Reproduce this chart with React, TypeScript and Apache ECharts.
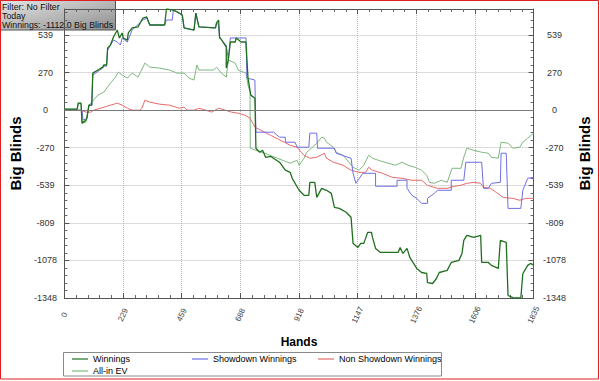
import React, { useEffect, useRef } from 'react';
import * as echarts from 'echarts';

const handsMax = 1835;
const handStep = 229.375;
const bbMin = -1348;
const bbMax = 726;
const bbStep = 269.6;

const infoLines = ['Filter: No Filter', 'Today', 'Winnings: -1112.0 Big Blinds'];

const winnings: [number, number][] = [
  [0, 7], [50, 7], [54, 50], [65, 50], [69, -93], [84, -72], [88, -58], [96, 36], [107, 36], [111, 266],
  [131, 288], [150, 309], [154, 324], [165, 324], [169, 446], [180, 467], [192, 525], [207, 575], [215, 518],
  [226, 554], [230, 518], [246, 503], [250, 554], [265, 590], [288, 597], [307, 661], [322, 669], [334, 611],
  [392, 611], [399, 726], [422, 719], [441, 705], [461, 683], [468, 590], [507, 575], [514, 697], [526, 597],
  [591, 590], [595, 626], [603, 647], [607, 518], [610, 518], [633, 453], [633, 302], [641, 360], [649, 489],
  [668, 489], [672, 518], [691, 489], [710, 489], [718, 230], [729, 108], [745, 86], [749, -273], [764, -302],
  [775, -288], [787, -338], [806, -331], [841, -374], [845, -381], [864, -431], [883, -446], [891, -489],
  [918, -575], [937, -611], [956, -611], [960, -518], [979, -518], [987, -626], [1006, -561], [1025, -575],
  [1044, -597], [1056, -697], [1075, -705], [1102, -733], [1121, -769], [1129, -956], [1148, -985], [1159, -956],
  [1171, -956], [1186, -877], [1201, -877], [1205, -913], [1217, -992], [1236, -1021], [1305, -1021],
  [1313, -985], [1324, -1028], [1340, -992], [1351, -1057], [1378, -1136], [1397, -1165], [1417, -1172],
  [1420, -1237], [1440, -1244], [1455, -1208], [1466, -1165], [1497, -1150], [1513, -1093], [1543, -1078],
  [1555, -1028], [1562, -935], [1574, -899], [1601, -913], [1628, -899], [1632, -1093], [1658, -1093],
  [1670, -1114], [1697, -1136], [1705, -935], [1728, -949], [1735, -1330], [1754, -1345], [1774, -1348],
  [1785, -1348], [1793, -1172], [1812, -1114], [1823, -1100], [1835, -1112],
];

const showdown: [number, number][] = [
  [0, 0], [69, 0], [73, -72], [88, -58], [96, 36], [107, 36], [111, 252], [150, 302], [154, 316], [165, 316],
  [169, 431], [192, 503], [207, 489], [219, 467], [226, 518], [246, 489], [265, 575], [307, 647], [322, 661],
  [334, 611], [392, 611], [399, 647], [422, 647], [426, 719], [441, 705], [461, 683], [468, 590], [507, 575],
  [514, 697], [526, 597], [591, 590], [595, 626], [603, 611], [607, 518], [633, 467], [641, 360], [649, 518],
  [710, 518], [714, 230], [745, 216], [749, -158], [818, -158], [841, -194], [864, -194], [864, -230],
  [902, -230], [910, -266], [956, -266], [960, -165], [987, -165], [990, -273], [1056, -273], [1063, -309],
  [1121, -345], [1129, -453], [1140, -525], [1148, -503], [1167, -453], [1217, -453], [1217, -546],
  [1301, -546], [1301, -503], [1340, -503], [1340, -561], [1359, -611], [1378, -633], [1397, -669],
  [1420, -669], [1420, -633], [1447, -597], [1459, -575], [1513, -575], [1513, -503], [1562, -503],
  [1570, -374], [1632, -374], [1639, -561], [1658, -561], [1670, -525], [1705, -518], [1708, -309],
  [1728, -309], [1735, -705], [1785, -705], [1793, -575], [1812, -489], [1835, -482],
];

const nonShowdown: [number, number][] = [
  [0, 0], [65, 0], [84, -14], [104, -14], [115, 0], [142, 14], [180, 36], [207, 50], [226, 36], [246, 14],
  [265, 0], [296, 0], [303, 14], [315, 72], [334, 58], [372, 43], [411, 36], [449, 14], [468, 22], [480, 0],
  [507, 0], [526, 14], [553, 0], [576, -14], [603, 14], [629, 0], [653, -14], [680, -22], [706, -36],
  [726, -58], [745, -122], [768, -144], [806, -180], [860, -230], [883, -252], [910, -266], [937, -324],
  [960, -345], [987, -338], [1017, -309], [1025, -345], [1052, -374], [1090, -395], [1121, -431],
  [1152, -446], [1178, -446], [1190, -410], [1205, -431], [1244, -453], [1282, -482], [1321, -489],
  [1359, -503], [1397, -503], [1420, -539], [1459, -561], [1497, -561], [1524, -546], [1551, -539],
  [1574, -525], [1601, -518], [1628, -525], [1639, -554], [1666, -561], [1689, -590], [1716, -626],
  [1754, -633], [1781, -647], [1804, -633], [1835, -633],
];

const allInEV: [number, number][] = [
  [0, 7], [50, 7], [54, 50], [65, 50], [69, -93], [84, -86], [96, 36], [131, 108], [154, 129], [180, 194],
  [200, 237], [211, 273], [226, 252], [246, 230], [265, 266], [288, 237], [315, 338], [334, 309], [372, 302],
  [411, 288], [441, 266], [468, 266], [487, 230], [507, 216], [518, 324], [526, 288], [584, 288], [595, 309],
  [610, 273], [633, 237], [641, 360], [668, 338], [680, 288], [710, 266], [718, 180], [726, 129], [727, -273],
  [749, -288], [783, -309], [833, -345], [883, -381], [910, -360], [918, -395], [937, -345], [948, -302],
  [987, -237], [1006, -194], [1017, -201], [1025, -230], [1052, -266], [1063, -302], [1090, -324],
  [1113, -374], [1129, -410], [1152, -431], [1171, -395], [1190, -324], [1205, -345], [1228, -360],
  [1267, -381], [1294, -395], [1321, -374], [1344, -395], [1371, -410], [1397, -431], [1417, -467],
  [1428, -518], [1447, -525], [1474, -503], [1497, -518], [1516, -417], [1551, -417], [1562, -338],
  [1574, -273], [1601, -288], [1632, -302], [1658, -309], [1670, -338], [1697, -345], [1708, -230],
  [1735, -237], [1754, -273], [1781, -266], [1793, -230], [1812, -201], [1835, -165],
];

const FONT = '"Liberation Sans", Arial, sans-serif';

export default function App() {
  const ref = useRef<HTMLDivElement>(null);

  useEffect(() => {
    const chart = echarts.init(ref.current as HTMLDivElement, null, { renderer: 'svg' });
    const fmt = (v: number) => String(Math.round(v) === 0 ? 0 : Math.round(v));

    const yAxis = (pos: 'left' | 'right', gap: number, margin: number) => ({
      type: 'value',
      position: pos,
      min: bbMin,
      max: bbMax,
      interval: bbStep,
      name: 'Big Blinds',
      nameLocation: 'middle',
      nameRotate: 90,
      nameGap: gap,
      nameTextStyle: { fontSize: 15, fontWeight: 'bold', color: '#000', fontFamily: FONT },
      axisLine: { show: true, onZero: false, lineStyle: { color: '#555', width: 1 } },
      axisTick: { show: true, inside: true, length: 5, lineStyle: { color: '#555' } },
      minorTick: { show: true, splitNumber: 5, length: 3, lineStyle: { color: '#666' } },
      axisLabel: {
        formatter: fmt,
        showMaxLabel: false,
        fontSize: 9,
        color: '#333',
        fontFamily: FONT,
        align: 'center',
        margin,
      },
      splitLine: { show: pos === 'left', lineStyle: { type: 'dotted', color: '#b8b8b8', width: 1 } },
    });

    const line = (name: string, data: [number, number][], color: string, width: number) => ({
      name,
      type: 'line',
      data,
      symbol: 'none',
      showSymbol: false,
      lineStyle: { color, width },
      itemStyle: { color },
      xAxisIndex: 0,
      yAxisIndex: 0,
    });

    const legendCommon = {
      top: 353,
      icon: 'rect',
      itemWidth: 16,
      itemHeight: 1.2,
      itemGap: 0,
      orient: 'vertical',
      textStyle: { fontSize: 9, color: '#000', fontFamily: FONT, lineHeight: 12, padding: [0, 0, 0, 0] },
      selectedMode: false,
      padding: 0,
    };

    chart.setOption({
      animation: false,
      backgroundColor: '#fff',
      grid: { left: 63, right: 59, top: 9, bottom: 83 },
      xAxis: [
        {
          type: 'value',
          position: 'bottom',
          min: 0,
          max: handsMax,
          interval: handStep,
          name: 'Hands',
          nameLocation: 'middle',
          nameGap: 38,
          nameTextStyle: { fontSize: 12, fontWeight: 'bold', color: '#000', fontFamily: FONT },
          axisLine: { show: true, onZero: false, lineStyle: { color: '#555' } },
          axisTick: { show: true, inside: true, length: 5, lineStyle: { color: '#555' } },
          minorTick: { show: true, splitNumber: 5, length: 3, lineStyle: { color: '#666' } },
          axisLabel: {
            formatter: fmt,
            rotate: 65,
            fontSize: 8,
            color: '#444',
            fontFamily: FONT,
            align: 'center',
            verticalAlign: 'middle',
            margin: 17,
          },
          splitLine: { show: true, lineStyle: { type: 'dotted', color: '#b8b8b8', width: 1 } },
        },
        {
          type: 'value',
          position: 'top',
          min: 0,
          max: handsMax,
          interval: handStep,
          axisLine: { show: true, onZero: false, lineStyle: { color: '#555' } },
          axisTick: { show: true, inside: true, length: 5, lineStyle: { color: '#555' } },
          minorTick: { show: true, splitNumber: 5, length: 3, lineStyle: { color: '#666' } },
          axisLabel: { show: false },
          splitLine: { show: false },
        },
      ],
      yAxis: [yAxis('left', 36, 19), yAxis('right', 31, 21)],
      legend: [
        { ...legendCommon, left: 72, data: ['Winnings', 'All-in EV'] },
        { ...legendCommon, left: 192, data: ['Showdown Winnings'] },
        { ...legendCommon, left: 318, data: ['Non Showdown Winnings'] },
      ],
      series: [
        {
          ...line('All-in EV', allInEV, '#7db87d', 1),
          markLine: {
            silent: true,
            symbol: 'none',
            label: { show: false },
            lineStyle: { color: '#7a7a7a', type: 'solid', width: 1 },
            data: [{ yAxis: 0 }],
          },
        },
        line('Non Showdown Winnings', nonShowdown, '#e86a6a', 1),
        line('Showdown Winnings', showdown, '#6e6ee6', 1),
        line('Winnings', winnings, '#1f6f1f', 1.3),
      ],
      graphic: [
        {
          type: 'rect',
          silent: true,
          z: 100,
          shape: { x: 63.5, y: 352.5, width: 378, height: 23.5 },
          style: { fill: 'none', stroke: '#8a8a8a', lineWidth: 1 },
        },
        {
          type: 'group',
          z: 100,
          silent: true,
          children: [
            {
              type: 'rect',
              shape: { x: 0.5, y: 0.5, width: 115, height: 29.5 },
              style: {
                fill: {
                  type: 'linear',
                  x: 0, y: 0, x2: 1, y2: 1,
                  colorStops: [
                    { offset: 0, color: '#e4e4e4' },
                    { offset: 1, color: '#8e8e8e' },
                  ],
                },
                stroke: '#555',
                lineWidth: 1,
              },
            },
            ...infoLines.map((t, i) => ({
              type: 'text',
              x: 2,
              y: 7 + i * 9,
              style: { text: t, fontSize: 8.8, fill: '#111', fontFamily: FONT, verticalAlign: 'middle' },
            })),
          ],
        },
        {
          type: 'rect',
          silent: true,
          z: 101,
          shape: { x: 0.5, y: 0.5, width: 598, height: 378.5 },
          style: { fill: 'none', stroke: '#e02020', lineWidth: 1 },
        },
      ],
    });

    return () => chart.dispose();
  }, []);

  return (
    <div
      ref={ref}
      style={{ position: 'fixed', left: 0, top: 0, width: 600, height: 381, background: '#fff' }}
    />
  );
}
